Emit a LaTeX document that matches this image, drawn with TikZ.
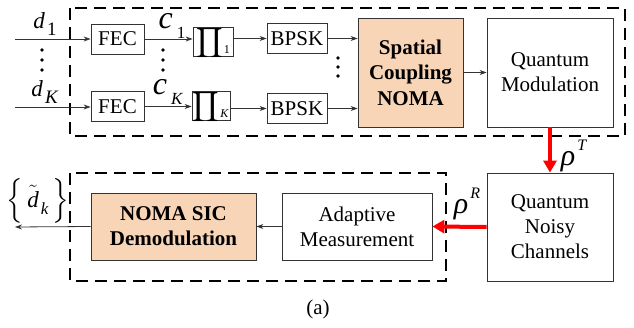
\documentclass[tikz,border=0pt]{standalone}
\usepackage{amsmath}
\usepackage{fontspec}
\setmainfont{Liberation Serif}
\usetikzlibrary{arrows.meta}
\definecolor{peach}{HTML}{F9D5B7}
\newcommand{\lowsub}[3]{\kern#3\raisebox{-0.3em}{\fontsize{#1}{#1}\selectfont #2}}
\newcommand{\highsup}[3]{\kern#3\raisebox{0.5em}{\fontsize{#1}{#1}\selectfont #2}}
\newcommand{\pisym}[1]{\raisebox{-7pt}[0pt][0pt]{\fontsize{20.74}{24}\selectfont$\displaystyle\prod$}\kern1pt\raisebox{-12pt}[0pt][0pt]{\fontsize{12}{12}\selectfont #1}}
\begin{document}
\begin{tikzpicture}[x=1pt,y=-1pt,
  every node/.style={font=\fontsize{21}{25}\selectfont},
  blk/.style={draw=black!80,line width=0.8pt,align=center,inner sep=0pt},
  pibox/.style={draw=black!80,line width=0.8pt,inner sep=0pt,text height=0pt,text depth=0pt},
  arr/.style={-{Stealth[length=7pt,width=5pt]},line width=0.8pt,draw=black!80},
  redarr/.style={-{Triangle[length=12pt,width=13pt]},line width=4pt,red},
  dbox/.style={draw=black,line width=2pt,dash pattern=on 12pt off 7pt},
  lbl/.style={inner sep=0pt},
  dotfill/.style={fill=black}
]
\useasboundingbox (0,0) rectangle (634,328);

% dashed frames
\draw[dbox] (70,8) rectangle (625,136);
\draw[dbox] (70,173) rectangle (446,281);

% transmitter blocks
\node[blk,minimum width=53pt,minimum height=30pt] (fec1) at (117.5,39) {FEC};
\node[blk,minimum width=53pt,minimum height=30pt] (fecK) at (117.5,106.5) {FEC};
\node[pibox,minimum width=40pt,minimum height=29pt] (pi1) at (213,41.5) {\pisym{1}};
\node[pibox,minimum width=38pt,minimum height=29pt] (piK) at (211,105.5) {\pisym{\textit{K}}};
\node[blk,minimum width=60pt,minimum height=30pt] (bpsk1) at (297,38.5) {BPSK};
\node[blk,minimum width=60pt,minimum height=30pt] (bpskK) at (297,108.5) {BPSK};
\node[blk,fill=peach,minimum width=105pt,minimum height=109pt,font=\fontsize{21}{25.5}\selectfont\bfseries] (scn) at (410.5,72.5) {Spatial\\Coupling\\NOMA};
\node[blk,minimum width=126pt,minimum height=109pt] (qm) at (550,72.5) {Quantum\\Modulation};

% channel and receiver
\node[blk,minimum width=126pt,minimum height=108pt] (qnc) at (550,227) {Quantum\\Noisy\\Channels};
\node[blk,minimum width=150pt,minimum height=67pt] (am) at (357,226.5) {Adaptive\\Measurement};
\node[blk,fill=peach,minimum width=165pt,minimum height=67pt,font=\fontsize{21}{25}\selectfont\bfseries] (sic) at (173.5,226.5) {NOMA SIC\\Demodulation};

% free ends
\coordinate (in1) at (15,39);
\coordinate (inK) at (15,107);
\coordinate (out) at (15,227);

% labels
\node[lbl,font=\fontsize{23}{23}\selectfont] (ld1) at (45,24) {\textit{d}\lowsub{19}{1}{2pt}};
\node[lbl,font=\fontsize{23}{23}\selectfont] (ldK) at (45,92) {\textit{d}\lowsub{19}{\textit{K}}{2pt}};
\node[lbl,font=\fontsize{32}{32}\selectfont] (lc1) at (172,26) {\textit{c}\lowsub{17}{1}{4pt}};
\node[lbl,font=\fontsize{32}{32}\selectfont] (lcK) at (168,92) {\textit{c}\lowsub{17}{\textit{K}}{4pt}};
\node[lbl,font=\fontsize{30}{30}\selectfont] (lrT) at (574,156) {\textit{ρ}\highsup{16}{\textit{T}}{2pt}};
\node[lbl,font=\fontsize{30}{30}\selectfont] (lrR) at (467,204) {\textit{ρ}\highsup{16}{\textit{R}}{2pt}};
\node[lbl,font=\fontsize{23}{23}\selectfont] (ldk) at (38,201) {$\Big\{$\,$\tilde{\mbox{\itshape d}}$\lowsub{17}{\textit{k}}{2pt}\,$\Big\}$};
\node[lbl] (cap) at (318,309) {(a)};

% vertical dots
\foreach \yy in {50,60,70} \fill[dotfill] (42,\yy) circle (1.9pt);
\foreach \yy in {50,60,70} \fill[dotfill] (163,\yy) circle (1.9pt);
\foreach \yy in {58,67,76} \fill[dotfill] (338,\yy) circle (1.9pt);

% connectors
\draw[arr] (in1) -- (fec1.west);
\draw[arr] (inK) -- (fecK.west |- inK);
\draw[arr] (fec1.east) -- (fec1.east -| pi1.west);
\draw[arr] (fecK.east) -- (fecK.east -| piK.west);
\draw[arr] (pi1.east |- bpsk1) -- (bpsk1.west);
\draw[arr] (piK.east |- bpskK) -- (bpskK.west);
\draw[arr] (bpsk1.east) -- (bpsk1.east -| scn.west);
\draw[arr] (bpskK.east) -- (bpskK.east -| scn.west);
\draw[arr] (scn.east) -- (qm.west);
\draw[redarr] (qm.south) -- (qnc.north);
\draw[redarr] (qnc.west) -- (am.east);
\draw[arr] (am.west) -- (sic.east);
\draw[arr] (sic.west) -- (out);
\end{tikzpicture}
\end{document}
